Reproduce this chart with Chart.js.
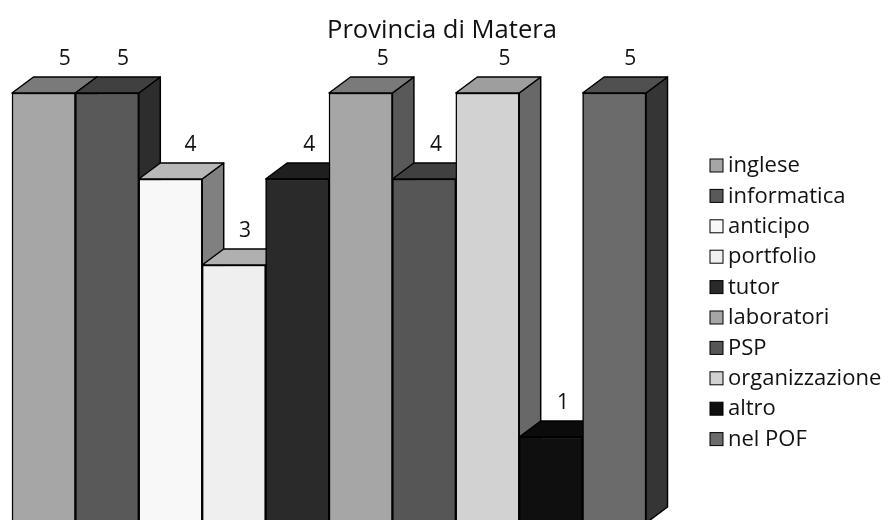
<!DOCTYPE html>
<html>
<head>
<meta charset="utf-8">
<title>Provincia di Matera</title>
<script src="https://cdn.jsdelivr.net/npm/chart.js@4"></script>
<style>
  html, body { margin: 0; padding: 0; background: #fff; overflow: hidden; }
  /* the bars run slightly past the bottom edge of the frame */
  #wrap { width: 884px; height: 520px; overflow: hidden; }
</style>
</head>
<body>
<div id="wrap"><canvas id="chart" width="884" height="523"></canvas></div>
<script>
const categories = ['inglese', 'informatica', 'anticipo', 'portfolio', 'tutor', 'laboratori', 'PSP', 'organizzazione', 'altro', 'nel POF'];
const values = [5, 5, 4, 3, 4, 5, 4, 5, 1, 5];

const frontColors = ['#a6a6a6', '#595959', '#f8f8f8', '#efefef', '#2a2a2a', '#a6a6a6', '#565656', '#d2d2d2', '#0f0f0f', '#6b6b6b'];
const topColors = ['#7a7a7a', '#404040', '#b8b8b8', '#b0b0b0', '#1f1f1f', '#7a7a7a', '#404040', '#9e9e9e', '#0b0b0b', '#505050'];
const sideColors = ['#595959', '#2d2d2d', '#808080', '#7a7a7a', '#161616', '#595959', '#2d2d2d', '#686868', '#080808', '#353535'];

// value labels sit a little right of each bar's centre
const labelShift = [21, 16, 20, 11, 12, 22, 12, 17, 12, 16];

const FONT = '"Open Sans", "Noto Sans", sans-serif';
const DEPTH_X = 21.5;
const DEPTH_Y = 16;

function face(ctx, pts, fill) {
  ctx.beginPath();
  ctx.moveTo(pts[0][0], pts[0][1]);
  for (let i = 1; i < pts.length; i++) ctx.lineTo(pts[i][0], pts[i][1]);
  ctx.closePath();
  ctx.fillStyle = fill;
  ctx.fill();
  ctx.stroke();
}

// Bar controller that paints each bar left to right with its side and top faces,
// so a later bar covers the depth of the one before it
class Bar3DController extends Chart.BarController {
  draw() {
    const ctx = this.chart.ctx;
    this.getMeta().data.forEach((bar, i) => {
      const left = bar.x - bar.width / 2;
      const right = bar.x + bar.width / 2;
      ctx.save();
      ctx.strokeStyle = '#000';
      ctx.lineWidth = 1.5;
      ctx.lineJoin = 'round';
      face(ctx, [[right, bar.y], [right + DEPTH_X, bar.y - DEPTH_Y], [right + DEPTH_X, bar.base - DEPTH_Y], [right, bar.base]], sideColors[i]);
      face(ctx, [[left, bar.y], [left + DEPTH_X, bar.y - DEPTH_Y], [right + DEPTH_X, bar.y - DEPTH_Y], [right, bar.y]], topColors[i]);
      ctx.restore();
      bar.draw(ctx, this.chart.chartArea);
    });
  }
}
Bar3DController.id = 'bar3d';
Bar3DController.defaults = Chart.BarController.defaults;
Bar3DController.overrides = Chart.BarController.overrides;
Chart.register(Bar3DController);

const barLabels = {
  id: 'barLabels',
  afterDraw(chart) {
    const ctx = chart.ctx;
    const bars = chart.getDatasetMeta(0).data;
    ctx.save();
    ctx.font = '21px ' + FONT;
    ctx.fillStyle = '#111';
    ctx.textAlign = 'center';
    ctx.textBaseline = 'middle';
    values.forEach((v, i) => {
      ctx.fillText(String(v), bars[i].x + labelShift[i], bars[i].y - 34);
    });
    ctx.restore();
  }
};

// Legend column to the right of the plot
const sideLegend = {
  id: 'sideLegend',
  afterDraw(chart) {
    const ctx = chart.ctx;
    ctx.save();
    ctx.font = '22px ' + FONT;
    ctx.textBaseline = 'middle';
    categories.forEach((name, i) => {
      const y = 165.5 + i * 30.4;
      ctx.fillStyle = frontColors[i];
      ctx.strokeStyle = '#000';
      ctx.lineWidth = 1;
      ctx.fillRect(710, y - 6.5, 13, 13);
      ctx.strokeRect(710, y - 6.5, 13, 13);
      ctx.fillStyle = '#111';
      ctx.fillText(name, 728, y + 0.5);
    });
    ctx.restore();
  }
};

// The layout padding reserves the legend column; keep the title centred on the whole canvas
const centerTitle = {
  id: 'centerTitle',
  afterLayout(chart) {
    chart.titleBlock.left = 0;
    chart.titleBlock.right = chart.width;
  }
};

new Chart(document.getElementById('chart').getContext('2d'), {
  type: 'bar3d',
  data: {
    labels: categories,
    datasets: [{
      data: values,
      backgroundColor: frontColors,
      borderColor: '#000',
      borderWidth: 1.5,
      barPercentage: 1,
      categoryPercentage: 1,
      clip: false
    }]
  },
  options: {
    responsive: false,
    animation: false,
    layout: { padding: { left: 12, right: 238, top: 0, bottom: 0 } },
    scales: {
      x: { type: 'category', display: false },
      y: { type: 'linear', display: false, min: 0, max: 5 }
    },
    plugins: {
      legend: { display: false },
      tooltip: { enabled: false },
      title: {
        display: true,
        text: 'Provincia di Matera',
        color: '#111',
        font: { family: FONT, size: 25.6, weight: 'normal', lineHeight: '30px' },
        padding: { top: 16, bottom: 47 }
      }
    }
  },
  plugins: [centerTitle, barLabels, sideLegend]
});
</script>
</body>
</html>
